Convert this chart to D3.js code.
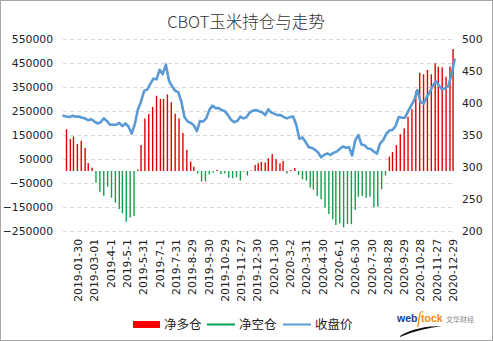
<!DOCTYPE html>
<html>
<head>
<meta charset="utf-8">
<script src="https://cdn.jsdelivr.net/npm/d3@7"></script>
<style>
  html, body { margin: 0; padding: 0; background: #fff; }
  svg { display: block; }
</style>
</head>
<body>
<svg id="chart" width="493" height="341"></svg>
<script>
// ---- data ----
// CBOT trading calendar bounds and exchange holidays
const firstDay = "2019-01-02";
const lastDay = "2020-12-31";
const holidays = ["2019-01-21","2019-02-18","2019-04-19","2019-05-27","2019-07-04","2019-09-02",
  "2019-11-28","2019-12-25","2020-01-01","2020-01-20","2020-02-17","2020-04-10","2020-05-25",
  "2020-07-03","2020-09-07","2020-11-26","2020-12-25"];

// category axis labels (one every 21 trading days)
const tickLabels = ["2019-01-30","2019-03-01","2019-4-1","2019-5-1","2019-5-31","2019-7-1",
  "2019-7-31","2019-8-29","2019-9-30","2019-10-29","2019-11-27","2019-12-30","2020-1-30",
  "2020-3-2","2020-3-31","2020-4-30","2020-6-1","2020-6-30","2020-7-30","2020-8-28",
  "2020-9-29","2020-10-28","2020-11-27","2020-12-29"];

// weekly net position of managed money (Tuesday reports, 2019-01-08 .. 2020-12-29)
const firstReport = "2019-01-08";
const netPosition = [
  174000, 133000, 144000, 112500, 126000, 96000, 33000, 14000,
  -49000, -86000, -103000, -65000, -111000, -132000, -158000, -176000, -211000, -194000, -188000,
  5500, 108000, 219000, 237000, 267000, 314000, 300000, 300000, 319000, 286000, 239000, 219000,
  158000, 89000, 39000, 18000,
  -10000, -44000, -44000, -14000, -7000, 5500, -14000, -10000, -28000, -30000, -26000, -40000,
  -3000, -19000, 2000, 25000, 32000, 37500, 35000, 53000, 71000, 49000, 32000, 42000,
  -10000, 4000, 12500, -17000, -35000, -40000, -69000, -78000, -104000, -118000, -152000,
  -179000, -201000, -225000, -218000, -235000, -221000, -222000, -162000, -107000, -104000,
  -111000, -107000, -151000, -149000, -76000, -19000,
  60000, 79000, 108000, 153000, 178000, 226000, 257000, 332000, 410000, 403000, 421000,
  403000, 449000, 435000, 432000, 393000, 435000, 508000
];

// closing price (cents/bu), one reading every 4 trading days
const priceStep = 4;
const closePrice = [
  380, 379, 378, 380, 378.6, 379, 377, 376, 373, 374.5, 371, 368, 370, 376, 372, 366,
  366, 366, 369, 364, 368, 363, 352, 367, 390, 402, 419, 421, 430, 438, 437, 452,
  445, 460, 435, 426, 419, 417, 402, 378, 371, 369, 365, 356, 372, 371, 376, 389,
  396, 392, 392, 389, 387, 381, 374, 370, 372, 378.6, 376, 378, 385, 388, 389, 387,
  385.5, 381, 390, 385, 383, 381, 381, 378, 376, 378, 379, 366, 344, 346, 339, 331,
  330, 327, 323, 315, 319, 321, 319, 322, 324, 328, 332, 330, 331, 318, 342, 350,
  335, 334, 329, 328, 324, 321, 337, 342, 352, 357, 358, 364, 378, 377, 377, 387,
  396, 405, 420, 402, 399, 409, 417, 427, 434, 427, 421, 423, 427, 445, 468
];

const leftTicks = [-250000, -150000, -50000, 50000, 150000, 250000, 350000, 450000, 550000];
const rightTicks = [200, 250, 300, 350, 400, 450, 500];

const seriesNames = ["净多仓", "净空仓", "收盘价"];
const colors = { long: "#e00000", short: "#12a04c", price: "#5b9bd5" };

// ---- layout ----
const W = 493, H = 341;
const plot = { left: 63, right: 455, top: 39, bottom: 231 };
const svg = d3.select("#chart");
const fmt = d3.timeFormat("%Y-%m-%d");
const parseLoose = s => { const p = s.split("-").map(Number); return new Date(p[0], p[1] - 1, p[2]); };

// trading days
const tradingDays = d3.timeDay.range(parseLoose(firstDay), d3.timeDay.offset(parseLoose(lastDay), 1))
  .filter(d => d.getDay() !== 0 && d.getDay() !== 6 && !holidays.includes(fmt(d)))
  .map(fmt);

const x = d3.scaleBand().domain(tradingDays).range([plot.left, plot.right]).paddingInner(0).paddingOuter(0);
const cx = key => x(key) + x.bandwidth() / 2;
const yL = d3.scaleLinear().domain([-250000, 550000]).range([plot.bottom, plot.top]);
const yR = d3.scaleLinear().domain([200, 500]).range([plot.bottom, plot.top]);

// outer frame
svg.append("rect").attr("x", 0.5).attr("y", 0.5).attr("width", W - 1).attr("height", H - 1)
  .attr("fill", "#fff").attr("stroke", "#a6a6a6");

// title
svg.append("text").attr("x", 246).attr("y", 28).attr("text-anchor", "middle")
  .attr("font-family", "'Noto Sans CJK SC', 'DejaVu Sans', sans-serif").attr("font-size", 16.5)
  .attr("font-weight", 300).attr("fill", "#333").text("CBOT玉米持仓与走势");

// gridlines
svg.append("g").selectAll("line").data(leftTicks).join("line")
  .attr("x1", plot.left).attr("x2", plot.right)
  .attr("y1", d => Math.round(yL(d)) + 0.5).attr("y2", d => Math.round(yL(d)) + 0.5)
  .attr("stroke", "#d9d9d9").attr("stroke-dasharray", "4,3");

// axes
const axisFont = g => g.selectAll("text").attr("font-family", "'DejaVu Sans', sans-serif")
  .attr("font-size", 10.8).attr("fill", "#222");

svg.append("g").attr("transform", `translate(${plot.left},0)`)
  .call(d3.axisLeft(yL).tickValues(leftTicks).tickSize(0).tickPadding(10).tickFormat(d3.format("d")))
  .call(g => g.select(".domain").remove()).call(axisFont);

svg.append("g").attr("transform", `translate(${plot.right},0)`)
  .call(d3.axisRight(yR).tickValues(rightTicks).tickSize(0).tickPadding(7))
  .call(g => g.select(".domain").remove()).call(axisFont);

const labelKeys = tickLabels.map(s => fmt(parseLoose(s)));
const labelOf = new Map(labelKeys.map((k, i) => [k, tickLabels[i]]));
svg.append("g").attr("transform", `translate(0,${plot.bottom})`)
  .call(d3.axisBottom(x).tickValues(labelKeys).tickSize(0).tickFormat(k => labelOf.get(k)))
  .call(g => g.select(".domain").remove())
  .call(axisFont)
  .call(g => g.selectAll("text")
    .attr("text-anchor", "end").attr("transform", "rotate(-90)")
    .attr("x", -8).attr("y", 0).attr("dy", "0.36em"));

// weekly net position bars
const reportDays = netPosition.map((v, i) => fmt(d3.timeDay.offset(parseLoose(firstReport), 7 * i)));
svg.append("g").selectAll("line").data(netPosition).join("line")
  .attr("x1", (d, i) => cx(reportDays[i])).attr("x2", (d, i) => cx(reportDays[i]))
  .attr("y1", yL(0)).attr("y2", d => yL(d))
  .attr("stroke", d => d >= 0 ? colors.long : colors.short)
  .attr("stroke-width", 1.4);

// closing price line
const line = d3.line()
  .x((d, i) => cx(tradingDays[Math.min(i * priceStep, tradingDays.length - 1)]))
  .y(d => yR(d))
  .curve(d3.curveLinear);
svg.append("path").datum(closePrice).attr("d", line)
  .attr("fill", "none").attr("stroke", colors.price).attr("stroke-width", 2.6)
  .attr("stroke-linejoin", "round").attr("stroke-linecap", "round");

// legend
const lg = svg.append("g").attr("font-family", "'Noto Sans CJK SC', sans-serif").attr("font-size", 12.5).attr("fill", "#222");
lg.append("rect").attr("x", 133).attr("y", 321).attr("width", 27).attr("height", 7).attr("fill", "#ff0000");
lg.append("text").attr("x", 164).attr("y", 329).text(seriesNames[0]);
lg.append("line").attr("x1", 207).attr("x2", 235).attr("y1", 324.5).attr("y2", 324.5)
  .attr("stroke", "#00a050").attr("stroke-width", 2);
lg.append("text").attr("x", 239).attr("y", 329).text(seriesNames[1]);
lg.append("line").attr("x1", 283).attr("x2", 311).attr("y1", 324.5).attr("y2", 324.5)
  .attr("stroke", colors.price).attr("stroke-width", 2);
lg.append("text").attr("x", 315).attr("y", 329).text(seriesNames[2]);

// brand mark
const logo = svg.append("g");
logo.append("path").attr("d", "M400,336 C411,329 426,326 442,326 C428,328 414,331 400,337 Z").attr("fill", "#111");
logo.append("text").attr("x", 397).attr("y", 322).attr("font-family", "'Liberation Sans', Arial, sans-serif")
  .attr("font-weight", "bold").attr("font-size", 10.5).attr("fill", "#1d3d8f").text("web");
logo.append("text").attr("x", 417).attr("y", 323).attr("font-family", "'Liberation Serif', serif")
  .attr("font-style", "italic").attr("font-size", 16).attr("fill", "#f08a00").text("ſ");
logo.append("text").attr("x", 421).attr("y", 322).attr("font-family", "'Liberation Sans', Arial, sans-serif")
  .attr("font-weight", "bold").attr("font-size", 10.5).attr("fill", "#f08a00").text("tock");
logo.append("text").attr("x", 446).attr("y", 322).attr("font-family", "'Noto Sans CJK SC', sans-serif")
  .attr("font-size", 7).attr("fill", "#888").text("文华财经");
</script>
</body>
</html>
